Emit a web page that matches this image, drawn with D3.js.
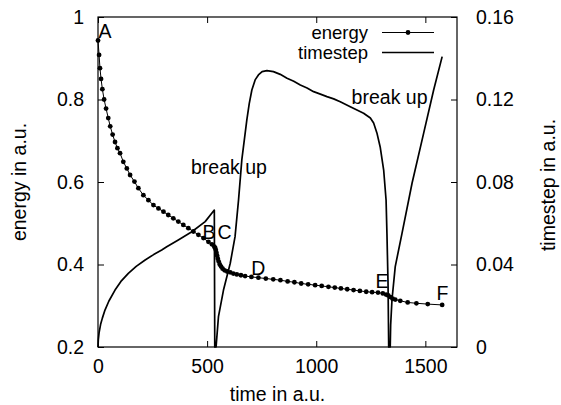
<!DOCTYPE html>
<html>
<head>
<meta charset="utf-8">
<script src="https://cdn.jsdelivr.net/npm/d3@7"></script>
<style>
  body { margin: 0; background: #fff; }
  text { font-family: "Liberation Sans", Arial, sans-serif; fill: #000; }
</style>
</head>
<body>
<script>
const W = 561, H = 405;
const margin = { top: 17, right: 104, bottom: 58, left: 98 };
const fs = 19.5;

// energy (left axis), points drawn with dots
const energyT = [0, 5, 9, 14, 20, 28, 37, 47, 56, 67, 78, 89, 101, 116, 132, 147, 167, 185, 208, 231,
  254, 277, 300, 322, 345, 368, 391, 414, 437, 460, 483, 506, 522, 533, 537, 540, 543, 546, 549, 553, 558,
  564, 571, 580, 592, 606, 620, 636, 655, 674, 703, 735, 769, 803, 836, 869, 900, 931, 963, 995, 1025, 1056,
  1085, 1113, 1142, 1171, 1200, 1229, 1256, 1283, 1305, 1320, 1330, 1340, 1350, 1362, 1385, 1419,
  1459, 1511, 1577];
const energyE = [0.943, 0.908, 0.876, 0.850, 0.825, 0.800, 0.778, 0.755, 0.735, 0.715, 0.697,
  0.682, 0.670, 0.649, 0.633, 0.617, 0.601, 0.585, 0.568, 0.556, 0.544, 0.536, 0.528, 0.520, 0.512, 0.504,
  0.496, 0.488, 0.480, 0.472, 0.464, 0.455, 0.449, 0.443, 0.440, 0.435, 0.428, 0.421, 0.414, 0.407, 0.400,
  0.395, 0.390, 0.386, 0.383, 0.381, 0.378, 0.376, 0.374, 0.372, 0.370, 0.368, 0.366, 0.364, 0.362, 0.359,
  0.357, 0.354, 0.352, 0.350, 0.348, 0.346, 0.344, 0.342, 0.340, 0.338, 0.336, 0.334, 0.333, 0.332, 0.330,
  0.327, 0.325, 0.321, 0.317, 0.315, 0.312, 0.308, 0.306, 0.304, 0.302];

// timestep (right axis), plain line
const stepT = [0, 1.4, 5, 12, 20, 32, 50, 78, 105, 139, 175, 216, 255, 292, 315, 368, 430, 491, 533, 535,
  541, 552, 575, 606, 628, 644, 659, 682, 693, 705, 720, 735, 752, 774, 804, 835, 866, 897, 927, 958, 988,
  1019, 1049, 1080, 1110, 1156, 1217, 1248, 1263, 1278, 1293, 1309, 1320, 1324, 1329, 1332, 1339, 1341, 1347,
  1362, 1393, 1439, 1492, 1538, 1577];
const stepV = [0, 0.0034, 0.0070, 0.0110, 0.0140, 0.0179, 0.0223, 0.0276, 0.0318, 0.0357, 0.0391, 0.0422,
  0.0448, 0.0470, 0.0486, 0.0519, 0.0559, 0.0608, 0.0664, 0,
  0, 0.0147, 0.0276, 0.0406, 0.0535, 0.0713, 0.0907, 0.1101, 0.1180, 0.1246, 0.1295, 0.1319, 0.1335, 0.1340,
  0.1335, 0.1322, 0.1303, 0.1288, 0.1270, 0.1256, 0.1238, 0.1226, 0.1214, 0.1203, 0.1189, 0.1165, 0.1133,
  0.1110, 0.1086, 0.1038, 0.0970, 0.0858, 0.0713, 0.0551, 0.0309, 0, 0, 0.0107, 0.0228, 0.0390, 0.0551,
  0.0794, 0.1036, 0.1246, 0.1408];

const xTicks = [0, 500, 1000, 1500];
const yTicks = [0.2, 0.4, 0.6, 0.8, 1];
const y2Ticks = [0, 0.04, 0.08, 0.12, 0.16];

const pointLabels = ["A", "B", "C", "D", "E", "F"];
const pointLabelT = [32, 509, 580, 735, 1301, 1578];
const pointLabelE = [0.966, 0.480, 0.480, 0.391, 0.360, 0.332];
const noteT = [600, 1336];
const noteE = [0.637, 0.807];

const svg = d3.select('body').append('svg')
  .attr('width', W).attr('height', H);

const x = d3.scaleLinear().domain([0, 1645]).range([margin.left, W - margin.right]);
const y = d3.scaleLinear().domain([0.2, 1]).range([H - margin.bottom, margin.top]);
const y2 = d3.scaleLinear().domain([0, 0.16]).range([H - margin.bottom, margin.top]);

const tk = 6;
const fmt = d => d3.format('')(d);

// axes with inward ticks
const axB = svg.append('g').attr('transform', `translate(0,${H - margin.bottom})`)
  .call(d3.axisBottom(x).tickValues(xTicks).tickSize(-tk).tickPadding(12).tickFormat(fmt));
const axT = svg.append('g').attr('transform', `translate(0,${margin.top})`)
  .call(d3.axisTop(x).tickValues(xTicks).tickSize(-tk).tickFormat(''));
const axL = svg.append('g').attr('transform', `translate(${margin.left},0)`)
  .call(d3.axisLeft(y).tickValues(yTicks).tickSize(-tk).tickPadding(14).tickFormat(fmt));
const axR = svg.append('g').attr('transform', `translate(${W - margin.right},0)`)
  .call(d3.axisRight(y2).tickValues(y2Ticks).tickSize(-tk).tickPadding(19).tickFormat(fmt));

[axB, axT, axL, axR].forEach(a => {
  a.select('.domain').remove();
  a.selectAll('.tick line').attr('stroke', '#000').attr('stroke-width', 1);
  a.selectAll('text').attr('font-size', fs).attr('font-family', '"Liberation Sans", Arial, sans-serif');
});

svg.append('rect')
  .attr('x', margin.left).attr('y', margin.top)
  .attr('width', W - margin.left - margin.right)
  .attr('height', H - margin.top - margin.bottom)
  .attr('fill', 'none').attr('stroke', '#000').attr('stroke-width', 1.2);

// axis titles
svg.append('text').attr('x', (margin.left + W - margin.right) / 2).attr('y', 394)
  .attr('text-anchor', 'middle').attr('dominant-baseline', 'central').attr('font-size', fs)
  .text('time in a.u.');
svg.append('text').attr('transform', `translate(19,${(margin.top + H - margin.bottom) / 2}) rotate(-90)`)
  .attr('text-anchor', 'middle').attr('dominant-baseline', 'central').attr('font-size', fs)
  .text('energy in a.u.');
svg.append('text').attr('transform', `translate(548,${(margin.top + H - margin.bottom) / 2 + 3}) rotate(-90)`)
  .attr('text-anchor', 'middle').attr('dominant-baseline', 'central').attr('font-size', fs)
  .text('timestep in a.u.');

// timestep line
const stepData = stepT.map((t, i) => [t, stepV[i]]);
svg.append('path').datum(stepData)
  .attr('d', d3.line().x(d => x(d[0])).y(d => y2(d[1])))
  .attr('fill', 'none').attr('stroke', '#000').attr('stroke-width', 1.7)
  .attr('stroke-linejoin', 'round');

// energy line + points
const energyData = energyT.map((t, i) => [t, energyE[i]]);
svg.append('path').datum(energyData)
  .attr('d', d3.line().x(d => x(d[0])).y(d => y(d[1])))
  .attr('fill', 'none').attr('stroke', '#000').attr('stroke-width', 1);
svg.selectAll('circle.e').data(energyData).enter().append('circle')
  .attr('class', 'e')
  .attr('cx', d => x(d[0])).attr('cy', d => y(d[1])).attr('r', 2.4)
  .attr('fill', '#000');

// point labels
svg.selectAll('text.pl').data(pointLabels).enter().append('text')
  .attr('class', 'pl')
  .attr('x', (d, i) => x(pointLabelT[i])).attr('y', (d, i) => y(pointLabelE[i]))
  .attr('text-anchor', 'middle').attr('dominant-baseline', 'central').attr('font-size', fs)
  .text(d => d);
svg.selectAll('text.note').data(noteT).enter().append('text')
  .attr('class', 'note')
  .attr('x', d => x(d)).attr('y', (d, i) => y(noteE[i]))
  .attr('text-anchor', 'middle').attr('dominant-baseline', 'central').attr('font-size', fs)
  .text('break up');

// legend
const legend = svg.append('g');
const legendRows = ['energy', 'timestep'];
legendRows.forEach((name, i) => {
  const ly = 32.5 + i * 20;
  legend.append('text').attr('x', 368).attr('y', ly)
    .attr('text-anchor', 'end').attr('dominant-baseline', 'central').attr('font-size', 18.5)
    .text(name);
  legend.append('line').attr('x1', 382).attr('x2', 434).attr('y1', ly).attr('y2', ly)
    .attr('stroke', '#000').attr('stroke-width', i === 0 ? 1 : 1.7);
  if (i === 0) {
    legend.append('circle').attr('cx', 408).attr('cy', ly).attr('r', 2.4).attr('fill', '#000');
  }
});
</script>
</body>
</html>
